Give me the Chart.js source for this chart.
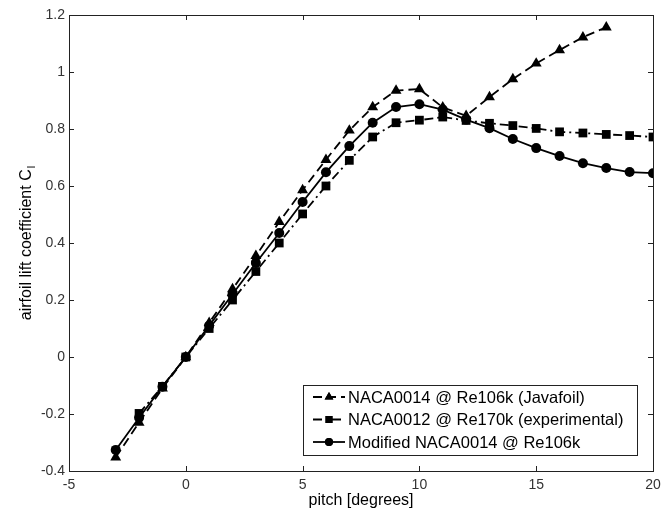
<!DOCTYPE html>
<html>
<head>
<meta charset="utf-8">
<script src="https://cdn.jsdelivr.net/npm/chart.js@4"></script>
<style>
  body { margin: 0; background: #fff; }
  canvas { display: block; }
</style>
</head>
<body>
<canvas id="liftChart" width="662" height="515"></canvas>
<script>
// pitch angles in degrees
const pitchJavafoil = [-3, -2, -1, 0, 1, 2, 3, 4, 5, 6, 7, 8, 9, 10, 11, 12, 13, 14, 15, 16, 17, 18];
const pitchExperimental = [-2, -1, 0, 1, 2, 3, 4, 5, 6, 7, 8, 9, 10, 11, 12, 13, 14, 15, 16, 17, 18, 19, 20];
const pitchModified = [-3, -2, -1, 0, 1, 2, 3, 4, 5, 6, 7, 8, 9, 10, 11, 12, 13, 14, 15, 16, 17, 18, 19, 20];

// lift coefficient values
const clJavafoil = [-0.352, -0.23, -0.11, 0, 0.12, 0.238, 0.355, 0.474, 0.586, 0.692, 0.795, 0.877, 0.935, 0.94, 0.876, 0.846, 0.912, 0.975, 1.03, 1.077, 1.122, 1.157];
const clExperimental = [-0.198, -0.103, 0, 0.1, 0.2, 0.3, 0.4, 0.502, 0.6, 0.69, 0.772, 0.822, 0.831, 0.842, 0.83, 0.82, 0.812, 0.802, 0.79, 0.786, 0.781, 0.777, 0.772];
const clModified = [-0.326, -0.213, -0.104, 0, 0.11, 0.22, 0.33, 0.435, 0.544, 0.648, 0.74, 0.822, 0.877, 0.887, 0.868, 0.833, 0.803, 0.765, 0.733, 0.705, 0.68, 0.663, 0.649, 0.645];

const seriesNames = [
    'NACA0014 @ Re106k (Javafoil)',
    'NACA0012 @ Re170k (experimental)',
    'Modified NACA0014 @ Re106k'
];

const xTicks = [-5, 0, 5, 10, 15, 20];
const yTicks = [-0.4, -0.2, 0, 0.2, 0.4, 0.6, 0.8, 1, 1.2];

const FONT = '"Liberation Sans", Arial, sans-serif';

function toPoints(xs, ys) {
    return xs.map((x, i) => ({ x: x, y: ys[i] }));
}

const styles = [
    { pointStyle: 'triangle', radius: 6.3, dash: [9, 5] },
    { pointStyle: 'rect', radius: 6.2, dash: [9, 4, 2, 4] },
    { pointStyle: 'circle', radius: 5, dash: [] }
];

const datasets = [
    toPoints(pitchJavafoil, clJavafoil),
    toPoints(pitchExperimental, clExperimental),
    toPoints(pitchModified, clModified)
].map((pts, i) => ({
    label: seriesNames[i],
    data: pts,
    showLine: true,
    borderColor: '#000',
    backgroundColor: '#000',
    borderWidth: 1.8,
    borderDash: styles[i].dash,
    pointStyle: styles[i].pointStyle,
    pointRadius: styles[i].radius,
    pointBorderWidth: 0,
    pointBackgroundColor: '#000',
    tension: 0
}));

// frame, inward ticks, axis titles and legend box
const decorations = {
    id: 'decorations',
    afterDraw(chart) {
        const ctx = chart.ctx;
        const a = chart.chartArea;
        const xs = chart.scales.x;
        const ys = chart.scales.y;
        ctx.save();
        ctx.strokeStyle = '#222';
        ctx.lineWidth = 1;
        ctx.setLineDash([]);
        ctx.strokeRect(a.left + 0.5, a.top + 0.5, a.right - a.left, a.bottom - a.top);

        const tl = 5;
        ctx.beginPath();
        xTicks.forEach(v => {
            const px = Math.round(xs.getPixelForValue(v)) + 0.5;
            ctx.moveTo(px, a.bottom);
            ctx.lineTo(px, a.bottom - tl);
            ctx.moveTo(px, a.top);
            ctx.lineTo(px, a.top + tl);
        });
        yTicks.forEach(v => {
            const py = Math.round(ys.getPixelForValue(v)) + 0.5;
            ctx.moveTo(a.left, py);
            ctx.lineTo(a.left + tl, py);
            ctx.moveTo(a.right, py);
            ctx.lineTo(a.right - tl, py);
        });
        ctx.stroke();

        // x axis title
        ctx.fillStyle = '#000';
        ctx.font = '16px ' + FONT;
        ctx.textAlign = 'center';
        ctx.textBaseline = 'middle';
        ctx.fillText('pitch [degrees]', (a.left + a.right) / 2, 501);

        // y axis title with subscript l
        const main = 'airfoil lift coefficient C';
        const sub = 'l';
        ctx.font = '16px ' + FONT;
        const wMain = ctx.measureText(main).width;
        ctx.font = '11px ' + FONT;
        const wSub = ctx.measureText(sub).width;
        const total = wMain + wSub + 1;
        ctx.save();
        ctx.translate(25, (a.top + a.bottom) / 2);
        ctx.rotate(-Math.PI / 2);
        ctx.textAlign = 'left';
        ctx.textBaseline = 'alphabetic';
        ctx.font = '16px ' + FONT;
        ctx.fillText(main, -total / 2, 6);
        ctx.font = '11px ' + FONT;
        ctx.fillText(sub, -total / 2 + wMain + 1, 10);
        ctx.restore();

        // legend
        const box = { x: 303, y: 385, w: 334, h: 70 };
        ctx.fillStyle = '#fff';
        ctx.fillRect(box.x, box.y, box.w, box.h);
        ctx.strokeStyle = '#222';
        ctx.lineWidth = 1;
        ctx.strokeRect(box.x + 0.5, box.y + 0.5, box.w, box.h);
        const rows = [397, 419.5, 442];
        chart.data.datasets.forEach((ds, i) => {
            const y = rows[i];
            ctx.strokeStyle = '#000';
            ctx.lineWidth = 1.8;
            ctx.setLineDash(ds.borderDash);
            ctx.beginPath();
            ctx.moveTo(313, y);
            ctx.lineTo(345, y);
            ctx.stroke();
            ctx.setLineDash([]);
            ctx.fillStyle = '#000';
            Chart.helpers.drawPoint(ctx, {
                pointStyle: ds.pointStyle,
                radius: ds.pointRadius * 0.8,
                borderWidth: 0
            }, 329, y);
            ctx.fill();
            ctx.fillStyle = '#000';
            ctx.font = '16.5px ' + FONT;
            ctx.textAlign = 'left';
            ctx.textBaseline = 'middle';
            ctx.fillText(ds.label, 348, y + 1);
        });
        ctx.restore();
    }
};

new Chart(document.getElementById('liftChart'), {
    type: 'scatter',
    data: { datasets: datasets },
    options: {
        responsive: false,
        animation: false,
        layout: { padding: { left: 0, top: 15, right: 9, bottom: 0 } },
        plugins: {
            legend: { display: false },
            tooltip: { enabled: false }
        },
        scales: {
            x: {
                type: 'linear',
                min: -5,
                max: 20,
                afterFit(scale) {
                    scale.height = 44;
                    scale.paddingLeft = 0;
                    scale.paddingRight = 0;
                },
                afterBuildTicks(scale) { scale.ticks = xTicks.map(v => ({ value: v })); },
                grid: { display: false, drawTicks: false },
                border: { display: false },
                ticks: {
                    padding: 6,
                    color: '#333',
                    font: { family: FONT, size: 14 },
                    maxRotation: 0,
                    callback: v => String(v)
                }
            },
            y: {
                type: 'linear',
                min: -0.4,
                max: 1.2,
                afterFit(scale) {
                    scale.width = 69;
                    scale.paddingTop = 0;
                    scale.paddingBottom = 0;
                },
                afterBuildTicks(scale) { scale.ticks = yTicks.map(v => ({ value: v })); },
                grid: { display: false, drawTicks: false },
                border: { display: false },
                ticks: {
                    padding: 4,
                    color: '#333',
                    font: { family: FONT, size: 14 },
                    callback: v => String(+v.toFixed(1))
                }
            }
        }
    },
    plugins: [decorations]
});
</script>
</body>
</html>
